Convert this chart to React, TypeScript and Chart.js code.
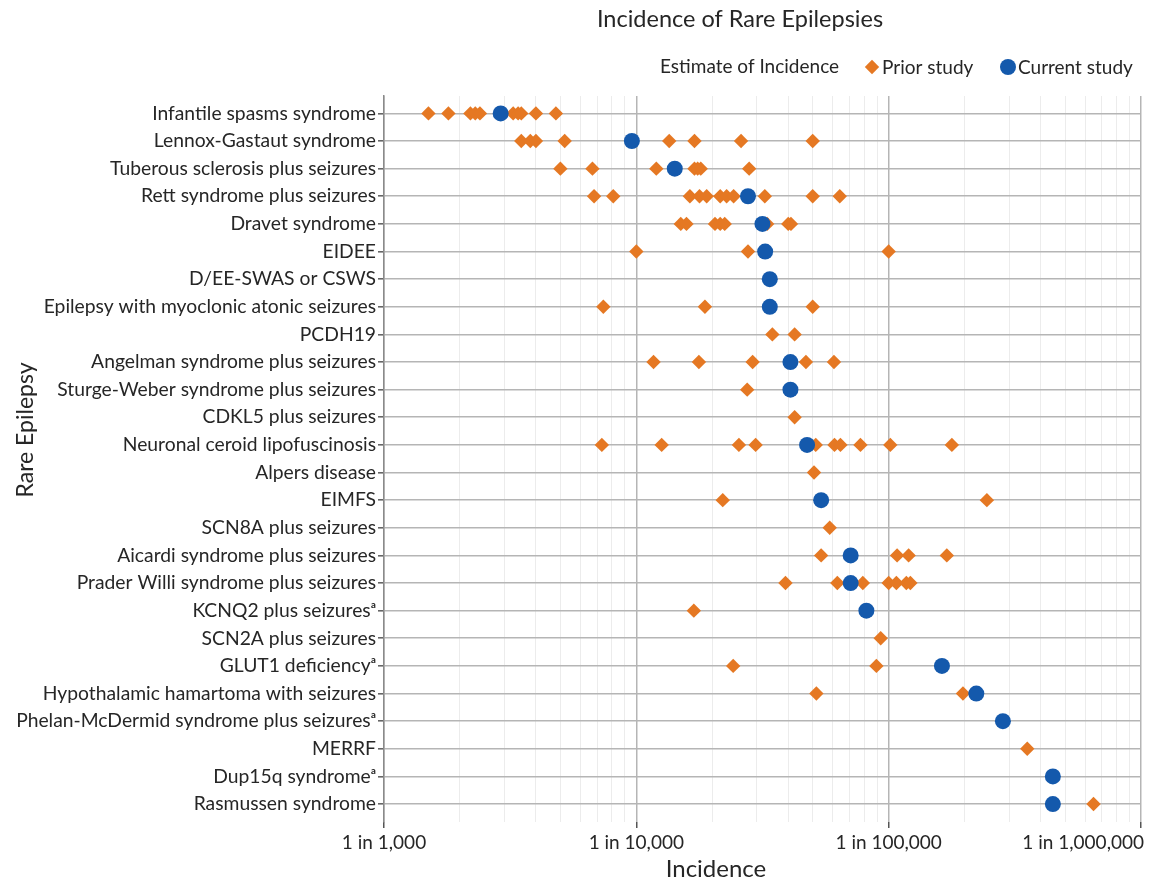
import React, { useEffect, useRef } from "react";
import { Chart, registerables } from "chart.js";

Chart.register(...registerables);

const chartTitle = "Incidence of Rare Epilepsies";
const xAxisTitle = "Incidence";
const yAxisTitle = "Rare Epilepsy";
const legendTitle = "Estimate of Incidence";
const priorLabel = "Prior study";
const currentLabel = "Current study";

const categories = [
  "Infantile spasms syndrome",
  "Lennox-Gastaut syndrome",
  "Tuberous sclerosis plus seizures",
  "Rett syndrome plus seizures",
  "Dravet syndrome",
  "EIDEE",
  "D/EE-SWAS or CSWS",
  "Epilepsy with myoclonic atonic seizures",
  "PCDH19",
  "Angelman syndrome plus seizures",
  "Sturge-Weber syndrome plus seizures",
  "CDKL5 plus seizures",
  "Neuronal ceroid lipofuscinosis",
  "Alpers disease",
  "EIMFS",
  "SCN8A plus seizures",
  "Aicardi syndrome plus seizures",
  "Prader Willi syndrome plus seizures",
  "KCNQ2 plus seizures\u1d43",
  "SCN2A plus seizures",
  "GLUT1 deficiency\u1d43",
  "Hypothalamic hamartoma with seizures",
  "Phelan-McDermid syndrome plus seizures\u1d43",
  "MERRF",
  "Dup15q syndrome\u1d43",
  "Rasmussen syndrome",
];

// "1 in N" denominators, one list per category
const priorStudy: number[][] = [
  [1500, 1800, 2200, 2300, 2400, 3250, 3400, 3500, 4000, 4800],
  [3500, 3800, 4000, 5200, 13500, 17000, 26000, 50000],
  [5000, 6700, 12000, 17000, 17500, 18000, 28000],
  [6800, 8100, 16300, 17800, 19000, 21500, 22800, 24300, 32300, 50000, 64000],
  [15000, 15800, 20500, 21500, 22400, 33000, 40000, 41000],
  [10000, 27700, 100000],
  [],
  [7400, 18700, 50000],
  [34600, 42400],
  [11700, 17700, 28900, 47000, 60700],
  [27500],
  [42400],
  [7300, 12600, 25500, 29700, 51400, 61000, 64400, 77300, 101500, 178000],
  [50600],
  [22000, 245000],
  [58400],
  [54000, 108000, 120000, 170000],
  [39000, 62600, 79000, 100000, 107300, 117500, 121900],
  [16900],
  [93000],
  [24200, 89400],
  [51700, 197000],
  [],
  [354200],
  [],
  [648400],
];

const currentStudy: (number | null)[] = [
  2900, 9600, 14200, 27700, 31600, 32400, 33800, 33800, null, 40800, 40800, null,
  47500, null, 54000, null, 70700, 70700, 81600, null, 162600, 222500, 283600,
  null, 447400, 447400,
];

const xMajorTicks = [1000, 10000, 100000, 1000000];
const xMinorMultipliers = [2, 3, 4, 5, 6, 7, 8, 9];

const ORANGE = "#E57823";
const BLUE = "#1459AC";
const FONT = "Lato, 'Open Sans', sans-serif";
const TEXT = "#262626";

function drawDiamond(ctx: CanvasRenderingContext2D, x: number, y: number, r: number, color: string) {
  ctx.beginPath();
  ctx.moveTo(x - r, y);
  ctx.lineTo(x, y - r);
  ctx.lineTo(x + r, y);
  ctx.lineTo(x, y + r);
  ctx.closePath();
  ctx.fillStyle = color;
  ctx.fill();
}

const overlayPlugin = {
  id: "overlay",
  afterDraw(chart: any) {
    const ctx: CanvasRenderingContext2D = chart.ctx;
    const xs = chart.scales.x;
    const area = chart.chartArea;
    ctx.save();
    ctx.fillStyle = TEXT;
    ctx.textBaseline = "middle";

    // title
    ctx.font = `23.5px ${FONT}`;
    ctx.textAlign = "center";
    ctx.fillText(chartTitle, 740, 19);

    // legend
    ctx.font = `19px ${FONT}`;
    ctx.textAlign = "left";
    ctx.fillText(legendTitle, 660, 67);
    drawDiamond(ctx, 872, 67, 7.2, ORANGE);
    ctx.fillStyle = TEXT;
    ctx.fillText(priorLabel, 882, 68);
    ctx.beginPath();
    ctx.arc(1008, 67, 8, 0, Math.PI * 2);
    ctx.fillStyle = BLUE;
    ctx.fill();
    ctx.fillStyle = TEXT;
    ctx.fillText(currentLabel, 1018, 68);

    // x tick labels
    ctx.font = `19px ${FONT}`;
    ctx.textAlign = "center";
    xMajorTicks.forEach((v) => {
      const label = "1 in " + v.toLocaleString("en-US");
      const w = ctx.measureText(label).width;
      const px = xs.getPixelForValue(v);
      const cx = Math.min(px, 1144 - w / 2);
      ctx.fillText(label, cx, area.bottom + 21);
    });

    // x axis title
    ctx.font = `24px ${FONT}`;
    ctx.fillText(xAxisTitle, 716, 869);

    // y axis title
    ctx.font = `23px ${FONT}`;
    ctx.translate(26, 430);
    ctx.rotate(-Math.PI / 2);
    ctx.fillText(yAxisTitle, 0, 0);
    ctx.restore();
  },
};

export default function App() {
  const ref = useRef<HTMLCanvasElement>(null);

  useEffect(() => {
    if (!ref.current) return;
    const priorPoints: { x: number; y: number }[] = [];
    priorStudy.forEach((vals, i) => vals.forEach((v) => priorPoints.push({ x: v, y: i })));
    const currentPoints: { x: number; y: number }[] = [];
    currentStudy.forEach((v, i) => {
      if (v !== null) currentPoints.push({ x: v, y: i });
    });

    const xTickValues: number[] = [];
    xMajorTicks.forEach((m, i) => {
      xTickValues.push(m);
      if (i < xMajorTicks.length - 1) xMinorMultipliers.forEach((k) => xTickValues.push(m * k));
    });
    const isMajor = (v: number) => xMajorTicks.includes(v);

    const chart = new Chart(ref.current, {
      type: "scatter",
      data: {
        datasets: [
          {
            label: currentLabel,
            data: currentPoints,
            pointStyle: "circle",
            pointRadius: 8,
            pointHoverRadius: 8,
            backgroundColor: BLUE,
            borderColor: BLUE,
            borderWidth: 0,
          },
          {
            label: priorLabel,
            data: priorPoints,
            pointStyle: "rectRot",
            pointRadius: 7.2,
            pointHoverRadius: 7.2,
            backgroundColor: ORANGE,
            borderColor: ORANGE,
            borderWidth: 0,
          },
        ],
      },
      options: {
        responsive: false,
        animation: false,
        devicePixelRatio: 1,
        layout: { padding: { top: 96, right: 14, left: 0, bottom: 0 } },
        plugins: { legend: { display: false }, tooltip: { enabled: false }, title: { display: false } },
        scales: {
          x: {
            type: "logarithmic",
            min: 1000,
            max: 1000000,
            afterBuildTicks: (s: any) => {
              s.ticks = xTickValues.map((v) => ({ value: v, major: isMajor(v) }));
            },
            afterFit: (s: any) => {
              s.height = 62;
            },
            ticks: { display: false, autoSkip: false },
            border: { display: false },
            grid: {
              drawTicks: true,
              tickLength: 6,
              color: (c: any) => (c.tick && isMajor(c.tick.value) ? "#b5b5b5" : "#ececec"),
              lineWidth: (c: any) => (c.tick && isMajor(c.tick.value) ? 1.5 : 1),
              tickColor: (c: any) => (c.tick && isMajor(c.tick.value) ? "#555555" : "rgba(0,0,0,0)"),
              tickWidth: 1.5,
            },
          },
          y: {
            type: "linear",
            reverse: true,
            min: -0.63,
            max: 25.65,
            afterBuildTicks: (s: any) => {
              s.ticks = categories.map((_, i) => ({ value: i }));
            },
            afterFit: (s: any) => {
              s.width = 384;
            },
            ticks: {
              autoSkip: false,
              padding: 2,
              color: TEXT,
              font: { family: FONT, size: 19.3 },
              callback: (v: any) => categories[v] ?? "",
            },
            border: { display: true, color: "#8a8a8a", width: 1.5 },
            grid: {
              color: "#b5b5b5",
              lineWidth: 1.6,
              drawTicks: true,
              tickLength: 6,
              tickColor: "#666666",
            },
          },
        },
      },
      plugins: [overlayPlugin],
    });
    return () => chart.destroy();
  }, []);

  return (
    <div style={{ position: "fixed", left: 0, top: 0, width: 1155, height: 884, background: "#fff" }}>
      <canvas ref={ref} width={1155} height={884} style={{ display: "block" }} />
    </div>
  );
}
